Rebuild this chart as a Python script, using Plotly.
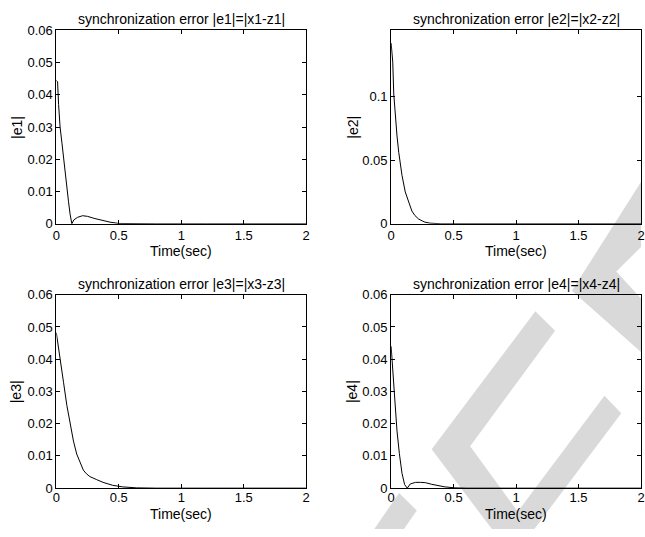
import plotly.graph_objects as go

W, H = 645, 537

# ---------------- data ----------------
t1 = [0, 0.01, 0.018, 0.03, 0.045, 0.058, 0.071, 0.084, 0.097, 0.11, 0.118, 0.124,
      0.14, 0.17, 0.21, 0.25, 0.30, 0.37, 0.43, 0.50, 0.60, 0.8, 1.2, 2.0]
e1 = [0.0445, 0.044, 0.037, 0.030, 0.025, 0.020, 0.0156, 0.011, 0.007, 0.003, 0.0012, 0.0,
      0.0012, 0.0020, 0.0025, 0.0023, 0.0017, 0.0010, 0.0005, 0.0001, 0.0, 0.0, 0.0, 0.0]

t2 = [0, 0.005, 0.013, 0.021, 0.034, 0.047, 0.061, 0.087, 0.113, 0.14, 0.166, 0.19,
      0.219, 0.25, 0.27, 0.31, 0.35, 0.4, 0.6, 1.0, 2.0]
e2 = [0.142, 0.138, 0.127, 0.102, 0.084, 0.069, 0.056, 0.038, 0.025, 0.0165, 0.010, 0.0065,
      0.0038, 0.0022, 0.0013, 0.0005, 0.0001, 0.0, 0.0, 0.0, 0.0]

t3 = [0, 0.015, 0.029, 0.058, 0.084, 0.11, 0.137, 0.163, 0.19, 0.216, 0.24, 0.268,
      0.32, 0.374, 0.45, 0.53, 0.64, 0.8, 1.2, 2.0]
e3 = [0.0482, 0.0445, 0.040, 0.0327, 0.0257, 0.0197, 0.0146, 0.0106, 0.0078, 0.0056, 0.0045,
      0.0036, 0.0027, 0.0018, 0.0009, 0.0004, 0.0001, 0.0, 0.0, 0.0]

t4 = [0, 0.005, 0.013, 0.029, 0.047, 0.066, 0.087, 0.108, 0.121, 0.129,
      0.153, 0.195, 0.235, 0.275, 0.325, 0.38, 0.43, 0.51, 0.6, 1.0, 2.0]
e4 = [0.0440, 0.041, 0.0358, 0.0268, 0.0177, 0.0107, 0.0046, 0.0011, 0.0002, 0.0,
      0.0013, 0.0018, 0.0018, 0.0017, 0.0012, 0.0008, 0.0004, 0.0001, 0.0, 0.0, 0.0]

x_ticks = [0, 0.5, 1, 1.5, 2]
x_ticktext = ["0", "0.5", "1", "1.5", "2"]
y_ticks_small = [0, 0.01, 0.02, 0.03, 0.04, 0.05, 0.06]
y_ticktext_small = ["0", "0.01", "0.02", "0.03", "0.04", "0.05", "0.06"]
y_ticks_e2 = [0, 0.05, 0.1]
y_ticktext_e2 = ["0", "0.05", "0.1"]

titles = ["synchronization error |e1|=|x1-z1|", "synchronization error |e2|=|x2-z2|",
          "synchronization error |e3|=|x3-z3|", "synchronization error |e4|=|x4-z4|"]
ylabels = ["|e1|", "|e2|", "|e3|", "|e4|"]
xlabel = "Time(sec)"

# ---------------- layout helpers (pixel -> paper) ----------------
def px(x):
    return x / W

def py(y):
    return 1 - y / H

# panel boxes in pixels: (left, right, top, bottom)
boxes = [(53, 306, 24, 223), (392, 645, 24, 223), (53, 306, 296, 495), (392, 645, 296, 495)]
ylab_x = [13, 353, 13, 353]
title_y = [12, 12, 285, 285]
xlab_y = [251, 251, 522, 522]
x_standoff = [0, 0, -3, -3]

FONT = "Liberation Sans, Arial, Helvetica, sans-serif"
fig = go.Figure()

series = [(t1, e1), (t2, e2), (t3, e3), (t4, e4)]
yranges = [[0, 0.06], [0, 0.152], [0, 0.06], [0, 0.06]]
yticks = [(y_ticks_small, y_ticktext_small), (y_ticks_e2, y_ticktext_e2),
          (y_ticks_small, y_ticktext_small), (y_ticks_small, y_ticktext_small)]

annotations = []
for i, ((tt, ee), box) in enumerate(zip(series, boxes)):
    n = "" if i == 0 else str(i + 1)
    fig.add_trace(go.Scatter(x=tt, y=ee, mode="lines", line=dict(color="black", width=1),
                             xaxis="x" + n, yaxis="y" + n, showlegend=False, hoverinfo="skip"))
    l, r, t, b = box
    common = dict(showline=True, linecolor="black", linewidth=1, mirror="ticks",
                  ticks="inside", ticklen=4, tickcolor="black", tickwidth=1,
                  showgrid=False, zeroline=False,
                  tickfont=dict(family=FONT, size=13, color="black"))
    fig.update_layout(**{
        "xaxis" + n: dict(domain=[px(l), min(px(r), 1.0)], range=[0, 2],
                          tickvals=x_ticks, ticktext=x_ticktext,
                          ticklabelstandoff=x_standoff[i],
                          anchor="y" + n, **common),
        "yaxis" + n: dict(domain=[py(b), py(t)], range=yranges[i],
                          tickvals=yticks[i][0], ticktext=yticks[i][1],
                          anchor="x" + n, **common),
    })
    cx = l + 126.5
    annotations.append(dict(text=titles[i], x=px(cx), y=py(title_y[i]), xref="paper", yref="paper",
                            showarrow=False, xanchor="center", yanchor="middle",
                            font=dict(family=FONT, size=14, color="black")))
    annotations.append(dict(text=xlabel, x=px(cx), y=py(xlab_y[i]), xref="paper", yref="paper",
                            showarrow=False, xanchor="center", yanchor="middle",
                            font=dict(family=FONT, size=14, color="black")))
    annotations.append(dict(text=ylabels[i], x=px(ylab_x[i]), y=py((t + b) / 2), xref="paper",
                            yref="paper", showarrow=False, textangle=-90,
                            xanchor="center", yanchor="middle",
                            font=dict(family=FONT, size=14, color="black")))

# ---------------- watermark (light gray bands) ----------------
wm_polys = [
    [(645, 180), (575, 292), (645, 355), (645, 300), (620, 272), (645, 247)],
    [(538, 313), (433, 455), (494, 537), (533, 537), (472, 452), (558, 333)],
    [(608, 400), (625, 418), (537, 537), (507, 537)],
    [(400, 500), (418, 518), (405, 537), (375, 537)],
]
shapes = []
for poly in wm_polys:
    path = "M " + " L ".join(f"{px(x):.5f},{py(y):.5f}" for x, y in poly) + " Z"
    shapes.append(dict(type="path", path=path, xref="paper", yref="paper",
                       fillcolor="#d9d9d9", line=dict(width=0), layer="below"))

fig.update_layout(width=W, height=H, autosize=False, margin=dict(l=0, r=0, t=0, b=0, pad=0),
                  paper_bgcolor="white", plot_bgcolor="rgba(0,0,0,0)",
                  annotations=annotations, shapes=shapes, showlegend=False)

fig.write_html("out.html", config={"displayModeBar": False, "responsive": False},
               post_script="document.body.style.margin='0';document.body.style.overflow='hidden';")
